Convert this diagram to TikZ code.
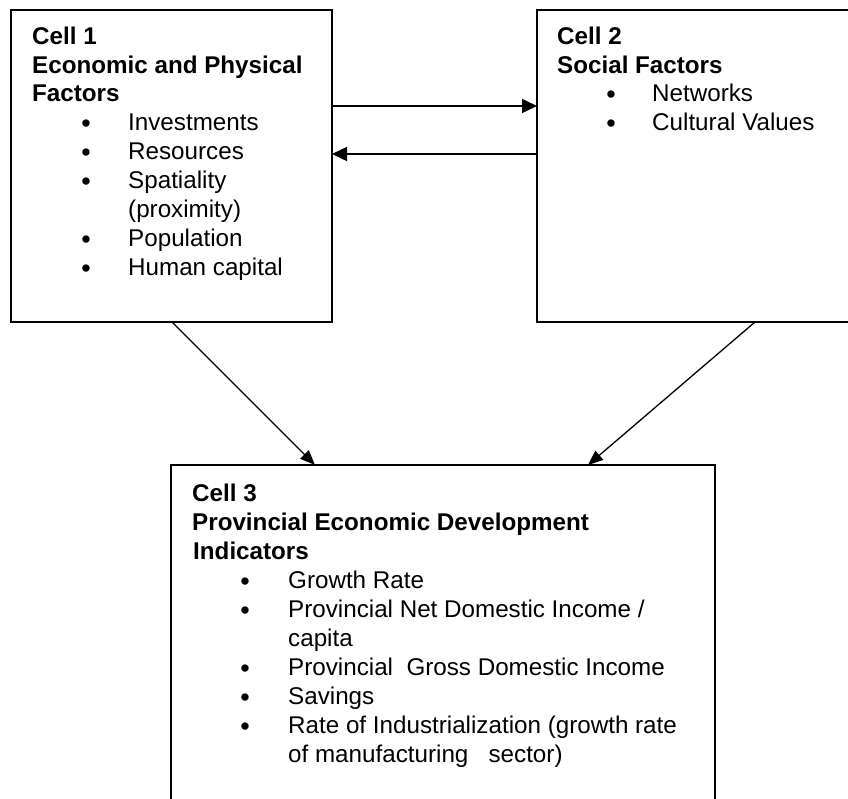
\documentclass[tikz,border=0pt]{standalone}
\usepackage{fontspec}
\setmainfont{Liberation Sans}
\usetikzlibrary{arrows.meta,calc}
\begin{document}
\begin{tikzpicture}[x=1pt,y=-1pt,
  cellbox/.style={draw=black,line width=1.7pt,inner sep=0pt,outer sep=0pt},
  txt/.style={anchor=base west,inner sep=0pt,font=\fontsize{24.2}{28}\selectfont},
  hd/.style={anchor=base west,inner sep=0pt,font=\fontsize{24.2}{28}\selectfont\bfseries},
  bul/.style={anchor=base,inner sep=0pt,yshift=-2pt,font=\fontsize{27}{28}\selectfont},
  harr/.style={line width=1.5pt,-{Triangle[length=15pt,width=14pt]}},
  darr/.style={line width=1.3pt,-{Triangle[length=15pt,width=12pt]}}]
\useasboundingbox (0,0) rectangle (848,799);
\clip (0,0) rectangle (848,799);
% boxes
\node[cellbox,minimum width=321pt,minimum height=312pt] (b1) at (171.5,166) {};
\node[cellbox,minimum width=330pt,minimum height=312pt] (b2) at (702,166) {};
\node[cellbox,minimum width=544pt,minimum height=360pt] (b3) at (443,645) {};
% cell 1 text
\node[hd] (c1a) at (32,45) {Cell 1};
\node[hd] (c1b) at (32,74) {Economic and Physical};
\node[hd] (c1c) at (32,102) {Factors};
\node[bul] (p11) at (86,131) {•};
\node[txt] (t11) at (128,131) {Investments};
\node[bul] (p12) at (86,160) {•};
\node[txt] (t12) at (128,160) {Resources};
\node[bul] (p13) at (86,189) {•};
\node[txt] (t13) at (128,189) {Spatiality};
\node[txt] (t13b) at (128,218) {(proximity)};
\node[bul] (p14) at (86,247) {•};
\node[txt] (t14) at (128,247) {Population};
\node[bul] (p15) at (86,276) {•};
\node[txt] (t15) at (128,276) {Human capital};
% cell 2 text
\node[hd] (c2a) at (557,45) {Cell 2};
\node[hd] (c2b) at (557,74) {Social Factors};
\node[bul] (p21) at (611,102) {•};
\node[txt] (t21) at (652,102) {Networks};
\node[bul] (p22) at (611,131) {•};
\node[txt] (t22) at (652,131) {Cultural Values};
% cell 3 text
\node[hd] (c3a) at (192,501) {Cell 3};
\node[hd] (c3b) at (192,530) {Provincial Economic Development};
\node[hd] (c3c) at (193,559) {Indicators};
\node[bul] (p31) at (245,588) {•};
\node[txt] (t31) at (288,588) {Growth Rate};
\node[bul] (p32) at (245,617) {•};
\node[txt] (t32) at (288,617) {Provincial Net Domestic Income /};
\node[txt] (t32b) at (288,646) {capita};
\node[bul] (p33) at (245,675) {•};
\node[txt] (t33) at (288,675) {Provincial\ \ Gross Domestic Income};
\node[bul] (p34) at (245,704) {•};
\node[txt] (t34) at (288,704) {Savings};
\node[bul] (p35) at (245,733) {•};
\node[txt] (t35) at (288,733) {Rate of Industrialization (growth rate};
\node[txt] (t35b) at (288,762) {of manufacturing\ \ \ sector)};
% connectors
\coordinate (ya) at (0,106);
\coordinate (yb) at (0,154);
\draw[harr] (b1.east |- ya) -- (b2.west |- ya);
\draw[harr] (b2.west |- yb) -- (b1.east |- yb);
\draw[darr] ($(b1.south west)+(161,0)$) -- ($(b3.north west)+(144,0)$);
\draw[darr] ($(b2.south west)+(218,0)$) -- ($(b3.north west)+(417,0)$);
\end{tikzpicture}
\end{document}
